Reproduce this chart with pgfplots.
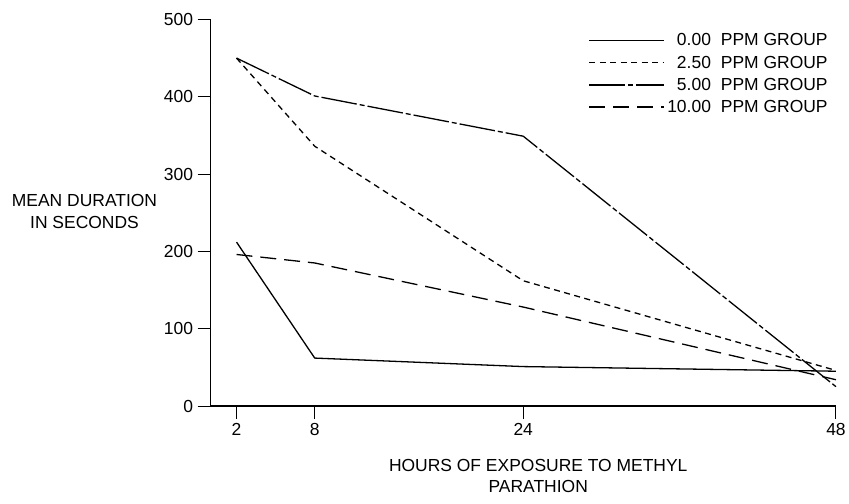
\documentclass[border=0pt]{standalone}
\usepackage{fontspec}
\setmainfont{Liberation Sans}
\usepackage{pgfplots}
\pgfplotsset{compat=1.18}
\newcommand{\lf}{\fontsize{17.5}{21.5}\selectfont}
\begin{document}
\begin{tikzpicture}
\begin{axis}[
  scale only axis, width=627pt, height=387.5pt,
  xmin=0, xmax=48, ymin=0, ymax=500,
  axis lines*=left,
  xtick={2,8,24,48}, ytick={0,100,200,300,400,500},
  tick align=outside, major tick length=13pt,
  tick style={line width=1pt, black},
  axis line style={line width=1.3pt, black},
  ticklabel style={font=\lf},
  /pgf/number format/assume math mode=true,
  yticklabel style={xshift=-1pt},
  xticklabel style={yshift=-1pt},
  clip=false,
  legend image code/.code={\draw[#1] (0pt,0pt) -- (75pt,0pt);},
  legend style={draw=none, fill=none, at={(rel axis cs:0.991,0.970)}, anchor=north east,
    font=\lf, inner sep=0pt, row sep=3.5pt, nodes={inner sep=2.5pt}},
  legend cell align=left,
]
\addplot[black, line width=1.3pt] coordinates {(2,212) (8,62) (24,51) (48,45)};
\addlegendentry{\makebox[43.8pt][r]{0.00}\hspace{10pt}PPM GROUP}
\addplot[black, line width=1.3pt, dash pattern=on 6pt off 4.5pt] coordinates {(2,450) (8,336) (24,162) (48,46)};
\addlegendentry{\makebox[43.8pt][r]{2.50}\hspace{10pt}PPM GROUP}
\addplot[black, line width=1.3pt, dash pattern=on 36pt off 3pt on 5pt off 3pt] coordinates {(2,450) (8,401) (24,349) (48,25)};
\addlegendentry{\makebox[43.8pt][r]{5.00}\hspace{10pt}PPM GROUP}
\addplot[black, line width=1.3pt, dash pattern=on 16pt off 8pt] coordinates {(2,196) (8,185) (24,128) (48,34)};
\addlegendentry{\makebox[43.8pt][r]{10.00}\hspace{10pt}PPM GROUP}
\node[font=\lf, align=center] at (rel axis cs:-0.2014,0.503) {MEAN DURATION\\IN SECONDS};
\node[font=\lf, align=center] at (rel axis cs:0.524,-0.181) {HOURS OF EXPOSURE TO METHYL\\PARATHION};
\path (rel axis cs:-0.3365,-0.2529) rectangle (rel axis cs:1.0175,1.0503);
\end{axis}
\end{tikzpicture}
\end{document}
